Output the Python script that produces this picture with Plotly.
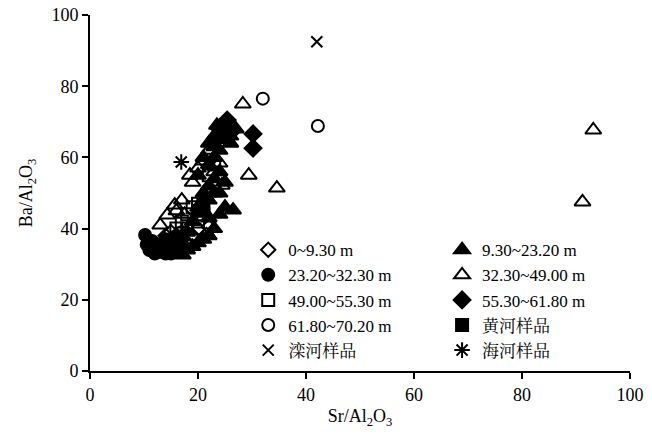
import plotly.graph_objects as go

# ---- data (Sr/Al2O3, Ba/Al2O3) ----
d0_x = [21.6, 20.0, 19.0, 17.0, 15.0, 14.0, 22.0, 18.0]
d0_y = [38.2, 40.0, 38.0, 37.0, 39.0, 38.0, 40.5, 36.0]

t1_x = [17.2, 18.0, 19.0, 20.0, 21.0, 22.0, 23.0, 22.0, 24.0, 25.0, 26.5, 21.0, 22.0, 23.0, 22.0, 23.0,
        24.0, 22.0, 23.0, 24.0, 22.0, 23.0, 24.0, 25.0, 26.0, 27.0, 23.5, 21.0, 20.0, 21.0, 20.0, 19.0,
        18.0, 24.0, 25.0, 26.0, 23.0, 24.5]
t1_y = [32.6, 34.0, 35.0, 36.0, 37.0, 38.0, 40.0, 43.0, 44.0, 46.0, 45.2, 45.0, 48.0, 50.0, 52.0, 54.0,
        56.0, 58.0, 60.0, 62.0, 64.0, 66.0, 67.0, 68.0, 66.0, 68.0, 69.0, 60.0, 55.0, 50.0, 46.0, 42.0,
        39.0, 50.0, 53.0, 64.0, 63.0, 65.0]

c2_x = [10.2, 10.5, 11.0, 12.0, 13.0, 14.0, 15.0, 12.5, 13.5, 15.0, 16.0, 14.0, 16.0, 17.0, 11.5]
c2_y = [38.2, 35.5, 34.0, 33.0, 33.5, 33.0, 33.0, 35.0, 36.0, 35.0, 34.0, 37.0, 38.0, 36.0, 36.5]

t3_x = [28.3, 29.4, 34.6, 93.2, 91.2, 14.3, 15.7, 13.0, 16.0, 17.0, 18.5, 19.0, 20.0, 21.0, 22.0, 24.0,
        24.4, 23.0, 22.0, 17.5]
t3_y = [75.0, 55.0, 51.4, 67.7, 47.5, 43.8, 46.6, 41.0, 45.0, 48.0, 55.0, 53.0, 57.0, 59.0, 62.0, 58.4,
        52.2, 56.0, 50.0, 44.0]

s4_x = [16.0, 17.0, 18.0, 19.0, 20.0, 18.0, 21.0, 20.0, 22.0, 23.0]
s4_y = [40.0, 42.0, 44.0, 46.0, 47.0, 40.0, 44.0, 42.0, 55.0, 58.0]

d5_x = [30.2, 30.2, 25.4, 24.0, 26.0]
d5_y = [66.6, 62.6, 70.5, 68.0, 67.0]

c6_x = [32.0, 42.2, 15.0, 17.0]
c6_y = [76.5, 68.8, 36.0, 39.0]

hh_x = [20.0, 21.0]
hh_y = [45.0, 47.0]

lh_x = [42.0]
lh_y = [92.5]

hai_x = [16.9]
hai_y = [58.7]

x_ticks = [0, 20, 40, 60, 80, 100]
y_ticks = [0, 20, 40, 60, 80, 100]

FONT = "Liberation Serif, Times New Roman, Noto Serif CJK SC, Noto Sans CJK SC, serif"
K = "black"

series = [
    # name, x, y, symbol, size, legend, rank
    ("0~9.30 m", d0_x, d0_y, "diamond-open", 11, "legend", 1),
    ("23.20~32.30 m", c2_x, c2_y, "circle", 12, "legend", 2),
    ("49.00~55.30 m", s4_x, s4_y, "square-open", 12, "legend", 3),
    ("61.80~70.20 m", c6_x, c6_y, "circle-open", 12, "legend", 4),
    ("滦河样品", lh_x, lh_y, "x-thin-open", 11, "legend", 5),
    ("32.30~49.00 m", t3_x, t3_y, "triangle-up-open", 14, "legend2", 2),
    ("9.30~23.20 m", t1_x, t1_y, "triangle-up", 14, "legend2", 1),
    ("55.30~61.80 m", d5_x, d5_y, "diamond", 13, "legend2", 3),
    ("黄河样品", hh_x, hh_y, "square", 12, "legend2", 4),
    ("海河样品", hai_x, hai_y, "asterisk-open", 13, "legend2", 5),
]

fig = go.Figure()
for name, xs, ys, sym, sz, lg, rk in series:
    fig.add_trace(go.Scatter(
        x=xs, y=ys, mode="markers", name=name, legend=lg, legendrank=rk,
        marker=dict(symbol=sym, size=sz, color=K, line=dict(color=K, width=2)),
    ))

axis_common = dict(
    showline=True, linecolor=K, linewidth=2, ticks="outside", ticklen=6, tickwidth=2,
    tickcolor=K, showgrid=False, zeroline=False, automargin=False,
    ticklabeloverflow="allow",
    tickfont=dict(family=FONT, size=18, color=K),
)

# page body has an 8px margin, so the figure is drawn 8px smaller and offset
fig.update_layout(
    width=636, height=421,
    margin=dict(l=82, r=14, t=7, b=58),
    paper_bgcolor="white", plot_bgcolor="white",
    font=dict(family=FONT, color=K),
    xaxis=dict(range=[0, 100], tickvals=x_ticks, **axis_common,
               title=dict(text="Sr/Al<sub>2</sub>O<sub>3</sub>", font=dict(family=FONT, size=18, color=K), standoff=20)),
    yaxis=dict(range=[0, 100], tickvals=y_ticks, **axis_common,
               title=dict(text="Ba/Al<sub>2</sub>O<sub>3</sub>", font=dict(family=FONT, size=18, color=K), standoff=14)),
    legend=dict(x=0.293, y=0.39, xanchor="left", yanchor="top", bgcolor="rgba(0,0,0,0)",
                font=dict(family=FONT, size=17, color=K), tracegroupgap=0),
    legend2=dict(x=0.652, y=0.39, xanchor="left", yanchor="top", bgcolor="rgba(0,0,0,0)",
                 font=dict(family=FONT, size=17, color=K), tracegroupgap=0),
    showlegend=True,
)

fig.write_html("out.html")
